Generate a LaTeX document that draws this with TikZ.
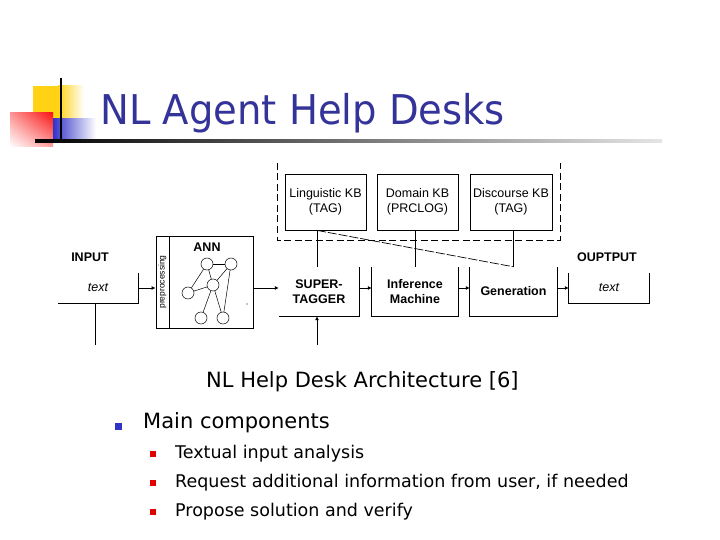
\documentclass[tikz,border=0pt]{standalone}
\usepackage{fontspec}
\setmainfont{Liberation Sans}
\newfontfamily\slidefont{DejaVu Sans}
\newfontfamily\titlefont[FakeStretch=0.94]{DejaVu Sans}
\usetikzlibrary{arrows.meta,shadings}
\definecolor{titleblue}{RGB}{51,51,153}
\definecolor{decoyellow}{RGB}{255,210,20}
\definecolor{decored}{RGB}{250,20,20}
\definecolor{decoblue}{RGB}{50,50,200}
\definecolor{bulletred}{RGB}{225,0,0}

\begin{document}
\begin{tikzpicture}[x=1pt,y=-1pt,
    box/.style={inner sep=0pt, align=center, font=\fontsize{12.5}{15.5}\selectfont},
    lbl/.style={inner sep=0pt, font=\bfseries\fontsize{12.5}{15.5}\selectfont},
    ln/.style={line width=0.8pt},
    arr/.style={line width=0.8pt, -{Latex[length=4pt,width=4pt]}},
    kbarea/.style={line width=0.8pt, dash pattern=on 7pt off 3.5pt},
    slide/.style={inner sep=0pt, anchor=base west, font=\slidefont\fontsize{#1}{#1}\selectfont}
]
    \useasboundingbox (0,0) rectangle (720,540);

    % title decoration
    \fill[decoyellow] (33,86) rectangle (58,121);
    \shade[left color=decoyellow, right color=white] (58,86) rectangle (84,121);
    \shade[upper left=decored!45, upper right=decored, lower right=decored!40, lower left=white] (10,113) rectangle (53,147);
    \shade[left color=decoblue, right color=white] (53,119) rectangle (96,140);
    \draw[line width=2pt] (61,78) -- (61,143);
    \shade[left color=black, right color=black!10] (35,140) rectangle (662,142.2);

    \node[inner sep=0pt, anchor=base west, text=titleblue, font=\titlefont\fontsize{41}{41}\selectfont] (title) at (100,125) {NL Agent Help Desks};

    % knowledge bases
    \node[box, minimum width=81pt, minimum height=56pt, draw, ln] (ling) at (325.5,202) {Linguistic KB\\(TAG)};
    \node[box, minimum width=81pt, minimum height=56pt, draw, ln] (dom) at (417.5,202) {Domain KB\\(PRCLOG)};
    \node[box, minimum width=82pt, minimum height=56pt, draw, ln] (disc) at (511,202) {Discourse KB\\(TAG)};
    \draw[kbarea] (277,163) -- (277,240) -- (560,240) -- (560,163);

    % input
    \node[lbl] (inlbl) at (90,257) {INPUT};
    \node[box, minimum width=80pt, minimum height=30pt, font=\itshape\fontsize{12.5}{15.5}\selectfont] (inbox) at (98,288) {text};
    \draw[ln] (inbox.north east) -- (inbox.south east) -- (inbox.south west);
    \coordinate (inlow) at (95,345);
    \draw[ln] (inlow) -- (inlow |- inbox.south);

    % ANN with preprocessing strip
    \node[box, minimum width=97pt, minimum height=92pt, draw, ln] (ann) at (204.5,282) {};
    \draw[ln] (169,236) -- (169,328);
    \node[inner sep=0pt, rotate=90, font=\fontsize{8.5}{10}\selectfont] (prep) at (162.5,282) {preprocessing};
    \node[lbl] (annlbl) at (207,247) {ANN};
    \foreach \n/\x/\y in {n1/207/264, n2/231/264, n3/188/293, n4/213/285, n5/201/318, n6/223/318}
        \node[circle, draw, line width=0.5pt, minimum size=12pt, inner sep=0pt] (\n) at (\x,\y) {};
    \foreach \a/\b in {n1/n2, n1/n3, n1/n4, n2/n4, n2/n6, n3/n4, n4/n5, n4/n6}
        \draw[line width=0.5pt] (\a) -- (\b);
    \fill (247,304) circle (0.6pt);

    % processing chain
    \node[box, minimum width=80pt, minimum height=49pt, font=\bfseries\fontsize{12.5}{15.5}\selectfont] (st) at (319,291.5) {SUPER-\\TAGGER};
    \draw[ln] (st.north east) -- (st.south east) -- (st.south west);
    \node[box, minimum width=86pt, minimum height=49pt, font=\bfseries\fontsize{12.5}{15.5}\selectfont] (inf) at (415,291.5) {Inference\\Machine};
    \draw[ln] (inf.north west) -- (inf.south west) -- (inf.south east) -- (inf.north east);
    \node[box, minimum width=87pt, minimum height=49pt, font=\bfseries\fontsize{12.5}{15.5}\selectfont] (gen) at (513.5,291.5) {Generation};
    \draw[ln] (gen.north west) -- (gen.south west) -- (gen.south east) -- (gen.north east);
    \coordinate (stlow) at (317,345);
    \draw[arr] (stlow) -- (stlow |- st.south);

    % output
    \node[lbl] (outlbl) at (607,257) {OUPTPUT};
    \node[box, minimum width=80pt, minimum height=30pt, font=\itshape\fontsize{12.5}{15.5}\selectfont] (outbox) at (609,288) {text};
    \draw[ln] (outbox.north west) -- (outbox.south west) -- (outbox.south east) -- (outbox.north east);

    % horizontal flow
    \draw[arr] (inbox.east) -- (inbox.east -| ann.west);
    \draw[arr] (ann.east |- inbox.east) -- (st.west |- inbox.east);
    \draw[arr] (st.east |- inbox.east) -- (inf.west |- inbox.east);
    \draw[arr] (inf.east |- inbox.east) -- (gen.west |- inbox.east);
    \draw[arr] (gen.east |- inbox.east) -- (outbox.west);

    % links to the knowledge bases
    \draw[ln] (ling.south -| stlow) -- (stlow |- st.north);
    \draw[ln] (dom.south -| inf.north) -- (inf.north);
    \draw[ln] (disc.south -| gen.north) -- (gen.north);
    \draw[line width=0.7pt, dash pattern=on 9pt off 2pt] (ling.south -| stlow) -- (gen.north);

    % caption and bullets
    \node[slide=21] (cap) at (206,387) {NL Help Desk Architecture [6]};
    \fill[decoblue] (115,423) rectangle (122,430);
    \node[slide=21] (main) at (143,428) {Main components};
    \foreach \t/\y in {Textual input analysis/458, Request additional information from user{,} if needed/487, Propose solution and verify/516} {
        \fill[bulletred] (149.5,\y-7) rectangle (155.5,\y-1);
        \node[slide=17.5] at (175,\y) {\t};
    }
\end{tikzpicture}
\end{document}
